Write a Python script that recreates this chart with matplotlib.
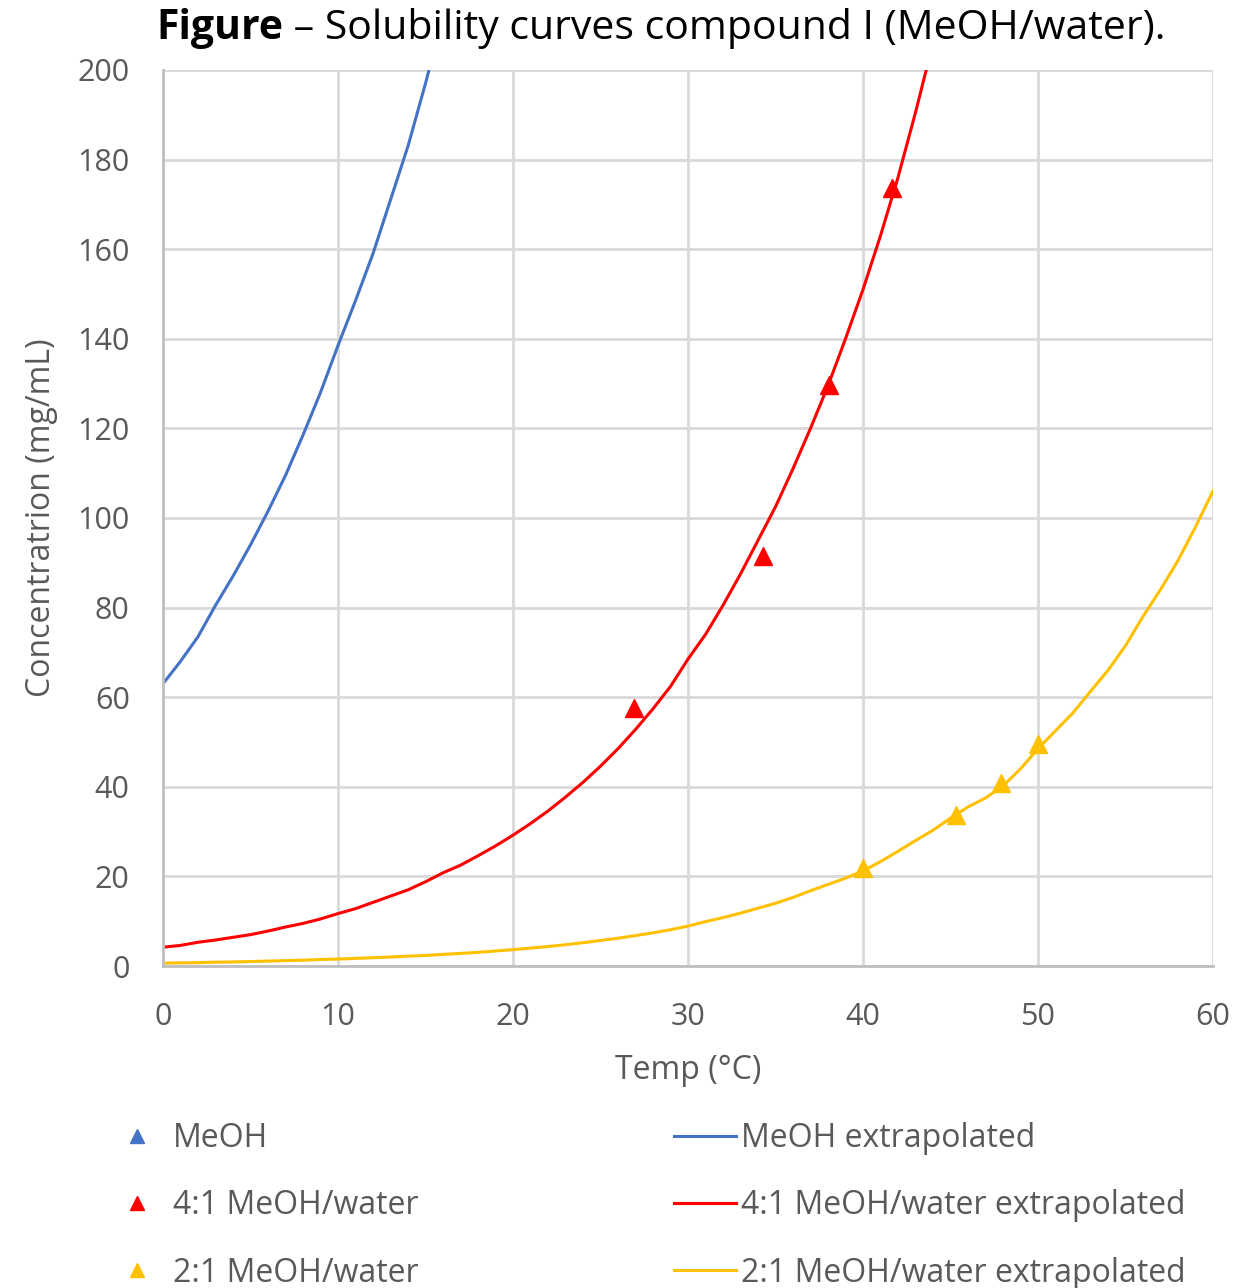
import numpy as np
import matplotlib
matplotlib.use('Agg')
import matplotlib.pyplot as plt

plt.rcParams['font.family'] = ['Open Sans', 'DejaVu Sans']

# -- extrapolated curves at 1 degC steps
temp_meoh   = list(range(0, 17))
conc_meoh   = [63, 68, 73.5, 80.5, 87, 94, 101.5, 109.5, 118.5, 128, 138.5,
               148.5, 159, 171, 183, 197, 212]

temp_41     = list(range(0, 45))
conc_41     = [4.2, 4.6, 5.3, 5.8, 6.4, 7.0, 7.8, 8.7, 9.5, 10.5, 11.7,
               12.8, 14.2, 15.6, 17.0, 18.8, 20.8, 22.5, 24.6, 26.8, 29.2,
               31.8, 34.6, 37.7, 41.0, 44.6, 48.5, 52.8, 57.4, 62.4, 68.5,
               74, 80.5, 87.5, 95, 102.5, 111, 120, 129.5, 140, 151,
               163, 176, 190.5, 206]

temp_21     = list(range(0, 61))
conc_21     = [0.65, 0.7, 0.75, 0.85, 0.9, 1.0, 1.1, 1.2, 1.3, 1.45, 1.55,
               1.7, 1.85, 2.0, 2.2, 2.35, 2.6, 2.8, 3.05, 3.35, 3.65,
               4.0, 4.35, 4.75, 5.2, 5.7, 6.2, 6.8, 7.4, 8.1, 8.9,
               9.9, 10.8, 11.8, 12.9, 14.0, 15.3, 16.8, 18.2, 19.6, 21.2,
               23.3, 25.6, 28.0, 30.3, 33.0, 35.5, 37.5, 40.2, 44.0, 48.5,
               52.5, 56.5, 61.3, 66.0, 71.5, 78, 84, 90.5, 98, 106]

# -- measured points
meas_t_meoh = []
meas_c_meoh = []
meas_t_41   = [26.9, 34.3, 38.05, 41.65]
meas_c_41   = [57.6, 91.5, 129.7, 173.7]
meas_t_21   = [40.0, 45.3, 47.9, 50.0]
meas_c_21   = [21.9, 33.7, 40.8, 49.6]

blue, red, yellow = '#4472C4', '#FF0000', '#FFC000'
grey_txt = '#595959'

fig = plt.figure(figsize=(12.5, 12.88), dpi=100)
ax  = fig.add_axes([0.1304, 0.25, 0.84, 0.6957])

l1, = ax.plot(temp_meoh, conc_meoh, color=blue,   lw=2.2, label='MeOH extrapolated')
l2, = ax.plot(temp_41,   conc_41,   color=red,    lw=2.2, label='4:1 MeOH/water extrapolated')
l3, = ax.plot(temp_21,   conc_21,   color=yellow, lw=2.2, label='2:1 MeOH/water extrapolated')

m1, = ax.plot(meas_t_meoh, meas_c_meoh, ls='none', marker='^', ms=13, color=blue,   label='MeOH')
m2, = ax.plot(meas_t_41,   meas_c_41,   ls='none', marker='^', ms=13, color=red,    label='4:1 MeOH/water')
m3, = ax.plot(meas_t_21,   meas_c_21,   ls='none', marker='^', ms=13, color=yellow, label='2:1 MeOH/water')

ax.set_xlim(0, 60)
ax.set_ylim(0, 200)
ax.set_xticks(np.arange(0, 61, 10))
ax.set_yticks(np.arange(0, 201, 20))
ax.grid(True, color='#D9D9D9', lw=2.0)
ax.set_axisbelow(True)
for s in ['top', 'right']:
    ax.spines[s].set_visible(False)
for s in ['left', 'bottom']:
    ax.spines[s].set_color('#BFBFBF')
    ax.spines[s].set_linewidth(2.0)
ax.tick_params(length=0, labelsize=22, colors=grey_txt, pad=24)
ax.tick_params(axis='x', pad=26)

ax.set_xlabel('Temp (°C)', fontsize=23, color=grey_txt, labelpad=16)
ax.set_ylabel('Concentratrion (mg/mL)', fontsize=23, color=grey_txt, labelpad=14)

fig.text(0.2265, 0.978, 'Figure', ha='right', va='center', fontsize=29.5, fontweight='bold')
fig.text(0.2265, 0.978, ' – Solubility curves compound I (MeOH/water).',
         ha='left', va='center', fontsize=29.5)

handles = [m1, m2, m3, l1, l2, l3]
leg = fig.legend(handles=handles, labels=[h.get_label() for h in handles],
                 ncol=2, loc='upper left', bbox_to_anchor=(0.062, 0.151),
                 frameon=False, fontsize=23, handlelength=1.95, handletextpad=0.15,
                 columnspacing=7.97, labelspacing=1.07, markerscale=0.8)
for t in leg.get_texts():
    t.set_color(grey_txt)

fig.savefig('out.png', dpi=100)
